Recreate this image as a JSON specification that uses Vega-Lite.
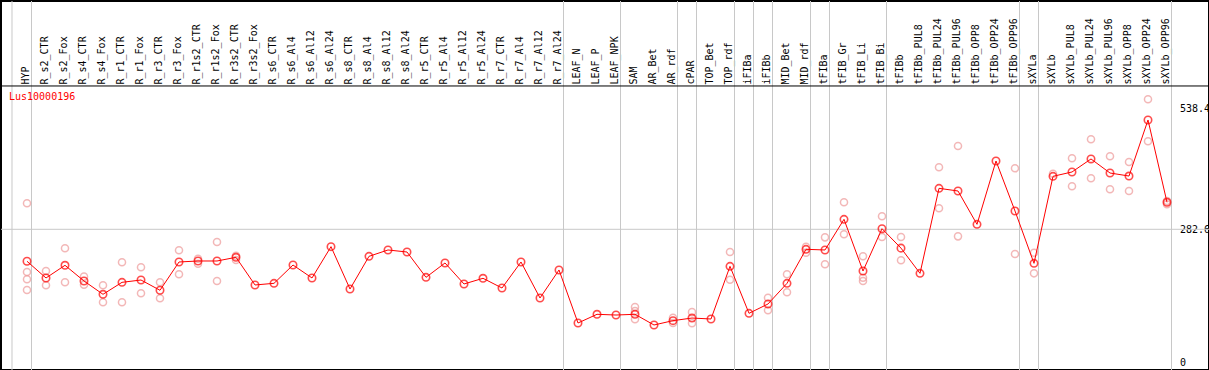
{
  "$schema": "https://vega.github.io/schema/vega-lite/v6.json",
  "width": 1208,
  "height": 369,
  "padding": 0,
  "background": "white",
  "config": {
    "view": {"stroke": "black", "strokeWidth": 2},
    "font": "DejaVu Sans Mono",
    "scale": {"bandPaddingInner": 0, "bandPaddingOuter": 0}
  },
  "title": {
    "text": "Lus10000196",
    "anchor": "start",
    "orient": "top",
    "frame": "group",
    "offset": -101,
    "dx": 8,
    "color": "#ff0000",
    "font": "DejaVu Sans Mono",
    "fontSize": 10,
    "fontWeight": "normal"
  },
  "datasets": {
    "means": [
      {"cat": "HYP", "mean": 215.0},
      {"cat": "R_s2_CTR", "mean": 179.7},
      {"cat": "R_s2_Fox", "mean": 206.5},
      {"cat": "R_s4_CTR", "mean": 173.3},
      {"cat": "R_s4_Fox", "mean": 145.2},
      {"cat": "R_r1_CTR", "mean": 170.5},
      {"cat": "R_r1_Fox", "mean": 175.4},
      {"cat": "R_r3_CTR", "mean": 153.7},
      {"cat": "R_r3_Fox", "mean": 213.5},
      {"cat": "R_r1s2_CTR", "mean": 215.6},
      {"cat": "R_r1s2_Fox", "mean": 215.6},
      {"cat": "R_r3s2_CTR", "mean": 223.4},
      {"cat": "R_r3s2_Fox", "mean": 164.9},
      {"cat": "R_s6_CTR", "mean": 168.4},
      {"cat": "R_s6_Al4", "mean": 207.1},
      {"cat": "R_s6_Al12", "mean": 179.7},
      {"cat": "R_s6_Al24", "mean": 245.9},
      {"cat": "R_s8_CTR", "mean": 156.4},
      {"cat": "R_s8_Al4", "mean": 225.5},
      {"cat": "R_s8_Al12", "mean": 238.9},
      {"cat": "R_s8_Al24", "mean": 234.6},
      {"cat": "R_r5_CTR", "mean": 181.1},
      {"cat": "R_r5_Al4", "mean": 211.4},
      {"cat": "R_r5_Al12", "mean": 167.0},
      {"cat": "R_r5_Al24", "mean": 179.0},
      {"cat": "R_r7_CTR", "mean": 158.5},
      {"cat": "R_r7_Al4", "mean": 213.5},
      {"cat": "R_r7_Al12", "mean": 137.4},
      {"cat": "R_r7_Al24", "mean": 196.6},
      {"cat": "LEAF_N", "mean": 84.5},
      {"cat": "LEAF_P", "mean": 102.9},
      {"cat": "LEAF_NPK", "mean": 101.4},
      {"cat": "SAM", "mean": 102.9},
      {"cat": "AR_Bet", "mean": 80.3},
      {"cat": "AR_rdf", "mean": 89.5},
      {"cat": "cPAR", "mean": 95.0},
      {"cat": "TOP_Bet", "mean": 93.0},
      {"cat": "TOP_rdf", "mean": 204.3},
      {"cat": "iFIBa", "mean": 105.0},
      {"cat": "iFIBb", "mean": 124.7},
      {"cat": "MID_Bet", "mean": 168.4},
      {"cat": "MID_rdf", "mean": 240.3},
      {"cat": "tFIBa", "mean": 238.9},
      {"cat": "tFIB_Gr", "mean": 303.7},
      {"cat": "tFIB_Li", "mean": 194.4},
      {"cat": "tFIB_Bi", "mean": 283.9},
      {"cat": "tFIBb", "mean": 242.8},
      {"cat": "tFIBb_PUL8", "mean": 189.5},
      {"cat": "tFIBb_PUL24", "mean": 369.2},
      {"cat": "tFIBb_PUL96", "mean": 363.6},
      {"cat": "tFIBb_OPP8", "mean": 293.1},
      {"cat": "tFIBb_OPP24", "mean": 427.0},
      {"cat": "tFIBb_OPP96", "mean": 321.3},
      {"cat": "sXYLa", "mean": 210.7},
      {"cat": "sXYLb", "mean": 394.6},
      {"cat": "sXYLb_PUL8", "mean": 403.8},
      {"cat": "sXYLb_PUL24", "mean": 431.3},
      {"cat": "sXYLb_PUL96", "mean": 401.6},
      {"cat": "sXYLb_OPP8", "mean": 395.2},
      {"cat": "sXYLb_OPP24", "mean": 513.7},
      {"cat": "sXYLb_OPP96", "mean": 339.7}
    ],
    "reps": [
      {"cat": "HYP", "value": 337.6}, {"cat": "HYP", "value": 192.3}, {"cat": "HYP", "value": 176.9}, {"cat": "HYP", "value": 154.3},
      {"cat": "R_s2_CTR", "value": 194.4}, {"cat": "R_s2_CTR", "value": 164.2},
      {"cat": "R_s2_Fox", "value": 242.4}, {"cat": "R_s2_Fox", "value": 170.5},
      {"cat": "R_s4_CTR", "value": 182.5}, {"cat": "R_s4_CTR", "value": 165.5},
      {"cat": "R_s4_Fox", "value": 164.2}, {"cat": "R_s4_Fox", "value": 128.3},
      {"cat": "R_r1_CTR", "value": 212.8}, {"cat": "R_r1_CTR", "value": 128.3},
      {"cat": "R_r1_Fox", "value": 202.2}, {"cat": "R_r1_Fox", "value": 147.3},
      {"cat": "R_r3_CTR", "value": 170.5}, {"cat": "R_r3_CTR", "value": 136.7},
      {"cat": "R_r3_Fox", "value": 238.2}, {"cat": "R_r3_Fox", "value": 187.5},
      {"cat": "R_r1s2_CTR", "value": 220.5}, {"cat": "R_r1s2_CTR", "value": 209.9},
      {"cat": "R_r1s2_Fox", "value": 255.8}, {"cat": "R_r1s2_Fox", "value": 173.3},
      {"cat": "R_r3s2_CTR", "value": 226.8}, {"cat": "R_r3s2_CTR", "value": 217.7},
      {"cat": "SAM", "value": 118.3}, {"cat": "SAM", "value": 110.0}, {"cat": "SAM", "value": 92.3},
      {"cat": "AR_rdf", "value": 95.7}, {"cat": "AR_rdf", "value": 84.5},
      {"cat": "cPAR", "value": 107.5}, {"cat": "cPAR", "value": 84.0},
      {"cat": "TOP_rdf", "value": 234.6}, {"cat": "TOP_rdf", "value": 176.1},
      {"cat": "iFIBb", "value": 138.0}, {"cat": "iFIBb", "value": 111.3},
      {"cat": "MID_Bet", "value": 187.5}, {"cat": "MID_Bet", "value": 149.4},
      {"cat": "MID_rdf", "value": 245.9}, {"cat": "MID_rdf", "value": 233.1},
      {"cat": "tFIBa", "value": 265.6}, {"cat": "tFIBa", "value": 208.6},
      {"cat": "tFIB_Gr", "value": 339.7}, {"cat": "tFIB_Gr", "value": 272.0},
      {"cat": "tFIB_Li", "value": 225.5}, {"cat": "tFIB_Li", "value": 180.3}, {"cat": "tFIB_Li", "value": 173.3},
      {"cat": "tFIB_Bi", "value": 310.1}, {"cat": "tFIB_Bi", "value": 266.3},
      {"cat": "tFIBb", "value": 266.3}, {"cat": "tFIBb", "value": 217.1},
      {"cat": "tFIBb_PUL24", "value": 413.6}, {"cat": "tFIBb_PUL24", "value": 327.0},
      {"cat": "tFIBb_PUL96", "value": 458.7}, {"cat": "tFIBb_PUL96", "value": 267.7},
      {"cat": "tFIBb_OPP96", "value": 411.5}, {"cat": "tFIBb_OPP96", "value": 230.4},
      {"cat": "sXYLa", "value": 233.1}, {"cat": "sXYLa", "value": 189.5},
      {"cat": "sXYLb", "value": 400.2},
      {"cat": "sXYLb_PUL8", "value": 432.7}, {"cat": "sXYLb_PUL8", "value": 373.5},
      {"cat": "sXYLb_PUL24", "value": 472.8}, {"cat": "sXYLb_PUL24", "value": 390.4},
      {"cat": "sXYLb_PUL96", "value": 436.9}, {"cat": "sXYLb_PUL96", "value": 367.2},
      {"cat": "sXYLb_OPP8", "value": 424.8}, {"cat": "sXYLb_OPP8", "value": 363.6},
      {"cat": "sXYLb_OPP24", "value": 557.5}, {"cat": "sXYLb_OPP24", "value": 468.6},
      {"cat": "sXYLb_OPP96", "value": 335.4}, {"cat": "sXYLb_OPP96", "value": 342.4}
    ],
    "bounds": [
      {"cat": "HYP"}, {"cat": "R_r7_Al24"}, {"cat": "LEAF_NPK"}, {"cat": "AR_rdf"},
      {"cat": "cPAR"}, {"cat": "TOP_rdf"}, {"cat": "iFIBa"}, {"cat": "iFIBb"},
      {"cat": "MID_rdf"}, {"cat": "tFIBa"}, {"cat": "tFIB_Bi"}, {"cat": "tFIBb_OPP96"},
      {"cat": "sXYLa"}, {"cat": "sXYLb_OPP96"}
    ],
    "one": [{}]
  },
  "layer": [
    {
      "data": {"name": "bounds"},
      "mark": {"type": "rule", "color": "#c8c8c8", "strokeWidth": 1},
      "encoding": {
        "x": {"field": "cat", "type": "nominal", "bandPosition": 0.737, "title": null,
              "scale": {"type": "band", "paddingInner": 0, "paddingOuter": 0, "range": [16.5, 1175.5],
                "domain": ["HYP","R_s2_CTR","R_s2_Fox","R_s4_CTR","R_s4_Fox","R_r1_CTR","R_r1_Fox","R_r3_CTR","R_r3_Fox","R_r1s2_CTR","R_r1s2_Fox","R_r3s2_CTR","R_r3s2_Fox","R_s6_CTR","R_s6_Al4","R_s6_Al12","R_s6_Al24","R_s8_CTR","R_s8_Al4","R_s8_Al12","R_s8_Al24","R_r5_CTR","R_r5_Al4","R_r5_Al12","R_r5_Al24","R_r7_CTR","R_r7_Al4","R_r7_Al12","R_r7_Al24","LEAF_N","LEAF_P","LEAF_NPK","SAM","AR_Bet","AR_rdf","cPAR","TOP_Bet","TOP_rdf","iFIBa","iFIBb","MID_Bet","MID_rdf","tFIBa","tFIB_Gr","tFIB_Li","tFIB_Bi","tFIBb","tFIBb_PUL8","tFIBb_PUL24","tFIBb_PUL96","tFIBb_OPP8","tFIBb_OPP24","tFIBb_OPP96","sXYLa","sXYLb","sXYLb_PUL8","sXYLb_PUL24","sXYLb_PUL96","sXYLb_OPP8","sXYLb_OPP24","sXYLb_OPP96"]},
              "axis": {"orient": "top", "labelAngle": -90, "labelAlign": "left", "labelBaseline": "alphabetic",
                       "labelPadding": -83, "labelOffset": 2, "ticks": false, "tickSize": 0, "domain": false, "grid": false,
                       "labelFont": "DejaVu Sans Mono", "labelFontSize": 10, "labelColor": "black",
                       "labelOverlap": false, "labelBound": false, "labelFlush": false}}
      }
    },
    {
      "data": {"name": "one"},
      "mark": {"type": "rule", "color": "#c8c8c8", "strokeWidth": 1},
      "encoding": {
        "x": {"datum": "HYP", "type": "nominal", "bandPosition": -0.29, "title": null}
      }
    },
    {
      "data": {"name": "one"},
      "mark": {"type": "rule", "color": "#c8c8c8", "strokeWidth": 1},
      "encoding": {
        "y": {"datum": 282.6, "type": "quantitative", "title": null}
      }
    },
    {
      "data": {"name": "one"},
      "mark": {"type": "rule", "color": "black", "strokeWidth": 1},
      "encoding": {
        "y": {"datum": 585.6, "type": "quantitative", "title": null}
      }
    },
    {
      "data": {"name": "reps"},
      "mark": {"type": "point", "shape": "circle", "filled": false, "color": "#ee9a9a", "size": 50, "strokeWidth": 1.5},
      "encoding": {
        "x": {"field": "cat", "type": "nominal", "title": null},
        "y": {"field": "value", "type": "quantitative", "title": null}
      }
    },
    {
      "data": {"name": "means"},
      "mark": {"type": "line", "color": "#ff0000", "strokeWidth": 1},
      "encoding": {
        "x": {"field": "cat", "type": "nominal", "title": null},
        "y": {"field": "mean", "type": "quantitative", "title": null}
      }
    },
    {
      "data": {"name": "means"},
      "mark": {"type": "point", "shape": "circle", "filled": false, "color": "#ff0000", "size": 55, "strokeWidth": 1.6},
      "encoding": {
        "x": {"field": "cat", "type": "nominal", "title": null},
        "y": {"field": "mean", "type": "quantitative", "title": null,
              "scale": {"domain": [-14.84, 765.25], "nice": false, "zero": false},
              "axis": {"orient": "right", "values": [0, 282.6, 538.4], "format": ".1~f",
                       "labelAlign": "left", "labelBaseline": "middle", "labelPadding": -29.5,
                       "ticks": false, "tickSize": 0, "domain": false, "grid": false,
                       "labelFont": "DejaVu Sans Mono", "labelFontSize": 10, "labelColor": "black",
                       "labelOverlap": false, "labelBound": false, "labelFlush": false}}
      }
    }
  ]
}
